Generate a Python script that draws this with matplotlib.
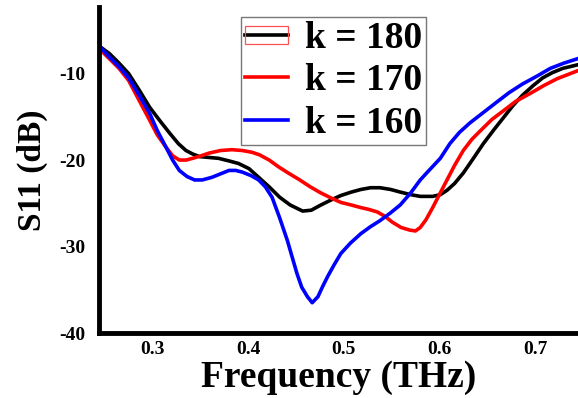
import matplotlib
matplotlib.use('Agg')
from matplotlib import pyplot as plt
from matplotlib.patches import Rectangle

# częstotliwość [THz], S11 [dB]
f_180 = [0.244, 0.255, 0.265, 0.275, 0.286, 0.297, 0.308, 0.318, 0.327, 0.335,
         0.342, 0.349, 0.359, 0.369, 0.380, 0.390, 0.401, 0.411, 0.422, 0.433,
         0.444, 0.457, 0.466, 0.476, 0.487, 0.497, 0.508, 0.518, 0.528, 0.538,
         0.549, 0.559, 0.570, 0.580, 0.593, 0.601, 0.608, 0.616, 0.625, 0.635,
         0.646, 0.657, 0.667, 0.677, 0.687, 0.698, 0.708, 0.718, 0.729, 0.744]
s_180 = [-6.8, -7.7, -8.8, -10.0, -11.9, -13.9, -15.5, -16.9, -18.1, -18.9,
         -19.3, -19.6, -19.7, -19.8, -20.1, -20.4, -21.0, -22.0, -23.1, -24.3,
         -25.2, -25.9, -25.8, -25.2, -24.6, -24.1, -23.7, -23.4, -23.2, -23.2,
         -23.4, -23.7, -24.0, -24.2, -24.2, -24.0, -23.5, -22.7, -21.5, -19.9,
         -18.1, -16.5, -15.1, -13.7, -12.5, -11.4, -10.5, -9.9, -9.4, -9.0]

f_170 = [0.244, 0.255, 0.265, 0.275, 0.286, 0.297, 0.305, 0.314, 0.321, 0.328,
         0.335, 0.342, 0.351, 0.359, 0.371, 0.383, 0.394, 0.404, 0.412, 0.422,
         0.432, 0.442, 0.454, 0.465, 0.476, 0.487, 0.497, 0.508, 0.518, 0.526,
         0.535, 0.543, 0.551, 0.560, 0.569, 0.575, 0.580, 0.586, 0.593, 0.600,
         0.608, 0.616, 0.625, 0.634, 0.643, 0.655, 0.667, 0.680, 0.695, 0.709,
         0.723, 0.744]
s_170 = [-7.1, -8.3, -9.4, -10.8, -13.1, -15.4, -17.1, -18.5, -19.5, -20.0,
         -20.0, -19.8, -19.5, -19.2, -18.9, -18.8, -18.9, -19.1, -19.4, -20.0,
         -20.8, -21.5, -22.3, -23.1, -23.8, -24.4, -24.9, -25.2, -25.5, -25.7,
         -26.0, -26.5, -27.2, -27.8, -28.1, -28.2, -27.8, -26.9, -25.5, -24.0,
         -22.3, -20.6, -18.9, -17.6, -16.6, -15.3, -14.3, -13.2, -12.3, -11.4,
         -10.6, -9.7]

f_160 = [0.244, 0.255, 0.265, 0.275, 0.286, 0.297, 0.305, 0.314, 0.321, 0.328,
         0.336, 0.344, 0.352, 0.362, 0.371, 0.380, 0.387, 0.394, 0.403, 0.411,
         0.418, 0.425, 0.433, 0.441, 0.446, 0.451, 0.456, 0.462, 0.467, 0.473,
         0.478, 0.483, 0.490, 0.497, 0.507, 0.518, 0.528, 0.538, 0.549, 0.559,
         0.570, 0.580, 0.590, 0.601, 0.611, 0.621, 0.632, 0.646, 0.660, 0.673,
         0.687, 0.702, 0.716, 0.730, 0.744]
s_160 = [-6.8, -8.1, -9.2, -10.5, -12.5, -14.6, -16.6, -18.5, -20.0, -21.2,
         -21.9, -22.3, -22.3, -22.0, -21.6, -21.2, -21.2, -21.4, -21.8, -22.3,
         -23.1, -24.3, -26.7, -29.3, -31.2, -33.1, -34.7, -35.8, -36.5, -35.8,
         -34.6, -33.5, -32.1, -30.8, -29.6, -28.5, -27.7, -27.0, -26.1, -25.2,
         -23.8, -22.3, -21.1, -19.8, -18.1, -16.8, -15.7, -14.5, -13.3, -12.2,
         -11.2, -10.3, -9.4, -8.8, -8.3]

plt.rcParams['font.family'] = 'Liberation Serif'
plt.rcParams['font.weight'] = 'bold'
plt.rcParams['axes.unicode_minus'] = False

fig = plt.figure(figsize=(5.78, 3.98), dpi=100)
ax = fig.add_axes([99 / 578, 65 / 398, 1 - 99 / 578, 326 / 398])

ax.plot(f_180, s_180, color='black', lw=2.6, label='k = 180')
ax.plot(f_170, s_170, color='#ff0000', lw=2.6, label='k = 170')
ax.plot(f_160, s_160, color='#0000ff', lw=2.6, label='k = 160')

ax.set_xlim(0.244, 0.745)
ax.set_ylim(-40, -2.3)
ax.set_xticks([0.3, 0.4, 0.5, 0.6, 0.7])
ax.set_yticks([-10, -20, -30, -40])
ax.tick_params(length=0, labelsize=14)
ax.tick_params(axis='y', pad=10)
ax.tick_params(axis='x', pad=6)
for lab in ax.get_xticklabels() + ax.get_yticklabels():
    lab.set_fontweight('bold')

ax.spines['top'].set_visible(False)
ax.spines['right'].set_visible(False)
ax.spines['left'].set_linewidth(3.5)
ax.spines['bottom'].set_linewidth(3.5)

ax.set_xlabel('Frequency (THz)', fontsize=27, fontweight='bold', labelpad=1)
ax.set_ylabel('S11 (dB)', fontsize=24, fontweight='bold', labelpad=8)

leg = ax.legend(loc='upper left', bbox_to_anchor=(241 / 578, 1 - 17 / 398),
                bbox_transform=fig.transFigure, fontsize=27, frameon=True,
                fancybox=False, handlelength=1.15, handletextpad=0.45,
                labelspacing=0.2, borderpad=0.1, borderaxespad=0)
leg.get_frame().set_edgecolor('#555555')
leg.get_frame().set_linewidth(1.0)
for t in leg.get_texts():
    t.set_fontweight('bold')

# mała czerwona ramka wokół czarnego znacznika w legendzie (jak w oryginale)
fig.canvas.draw()
bb = leg.get_lines()[0].get_window_extent().transformed(fig.transFigure.inverted())
yc = (bb.y0 + bb.y1) / 2
fig.add_artist(Rectangle((bb.x0, yc - 9 / 398), bb.width, 18 / 398,
                         transform=fig.transFigure, fill=False,
                         edgecolor='#ff5050', lw=0.9, zorder=10))

fig.savefig('out.png', dpi=100)
